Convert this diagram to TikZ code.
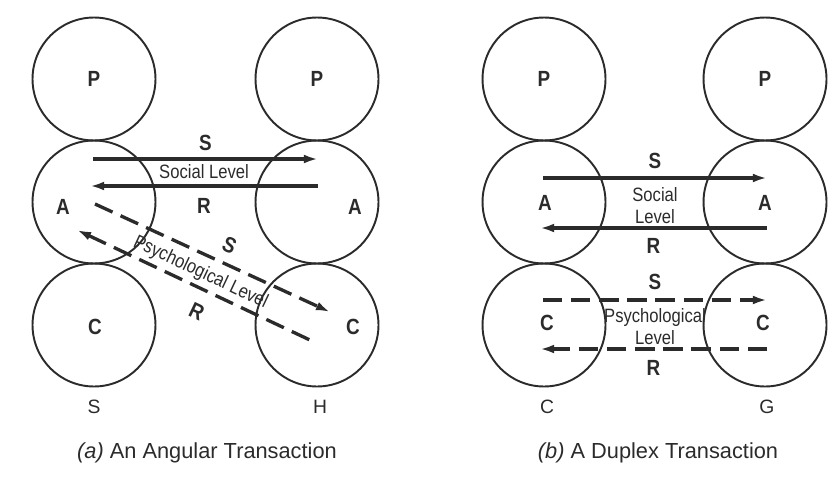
\documentclass[tikz,border=0pt]{standalone}
\usepackage{fontspec}
\setmainfont{Liberation Sans}
\newfontfamily\narrowfont{Liberation Sans}[FakeStretch=0.86]
\usepackage{tikz}
\usetikzlibrary{arrows.meta,calc}
\definecolor{ink}{HTML}{2B2B2B}
\tikzset{
	ego/.style={circle, draw=ink, line width=1.1pt, minimum size=2.46cm, inner sep=0pt},
	egoname/.style={text=ink, font=\narrowfont\bfseries\fontsize{12.5}{13}\selectfont},
	lvl/.style={text=ink, align=center, font=\narrowfont\fontsize{11}{12.5}\selectfont},
	who/.style={text=ink, font=\fontsize{11}{12}\selectfont},
	caption/.style={text=ink, font=\fontsize{12.4}{14}\selectfont},
	social/.style={draw=ink, line width=1.9pt, -{Latex[length=8pt,width=5pt]}},
	socialback/.style={draw=ink, line width=1.9pt, {Latex[length=8pt,width=5pt]}-},
	psych/.style={social, dash pattern=on 11pt off 5pt},
	psychback/.style={socialback, dash pattern=on 11pt off 5pt}
}

\begin{document}
\begin{tikzpicture}[x=0.02cm, y=-0.02cm]
	\useasboundingbox (0,0) rectangle (837,494);

	\node[ego] (aLP) at (94,79) {};
	\node[ego] (aLA) at (94,202) {};
	\node[ego] (aLC) at (94,325) {};
	\node[ego] (aRP) at (317,79) {};
	\node[ego] (aRA) at (317,202) {};
	\node[ego] (aRC) at (317,325) {};
	\node[egoname] (aLPt) at (aLP) {P};
	\node[egoname] (aRPt) at (aRP) {P};
	\node[egoname] (aLAt) at (63,207) {A};
	\node[egoname] (aRAt) at (355,207) {A};
	\node[egoname] (aLCt) at (95,327) {C};
	\node[egoname] (aRCt) at (353,327) {C};

	\draw[social] ($(aLA)+(-1,-43)$) -- ($(aRA)+(1,-43)$) node[egoname, midway, above=0.7pt] (aSs) {S};
	\draw[social] ($(aRA)+(1,-16)$) -- ($(aLA)+(-4,-16)$) node[lvl, midway, above=0pt] (aSl) {Social Level} node[egoname, midway, below=2.9pt] (aSr) {R};
	\draw[psych] ($(aLA)+(1,2)$) -- ($(aRC)+(13,-13)$) node[egoname, sloped, pos=0.54, above=1.8pt] (aPs) {S};
	\draw[psychback] ($(aLA)+(-17,28)$) -- ($(aRC)+(-5,16)$) node[lvl, sloped, midway, above, inner sep=2pt] (aPl) {Psychological Level} node[egoname, sloped, pos=0.55, below=4.2pt] (aPr) {R};

	\node[who] (aS) at (94,407) {S};
	\node[who] (aH) at (320,407) {H};
	\node[caption] (acap) at (207,453) {\textit{(a)} An Angular Transaction};

	\node[ego] (bLP) at (544,79) {};
	\node[ego] (bLA) at (544,202) {};
	\node[ego] (bLC) at (544,325) {};
	\node[ego] (bRP) at (765,79) {};
	\node[ego] (bRA) at (765,202) {};
	\node[ego] (bRC) at (765,325) {};
	\node[egoname] (bLPt) at (bLP) {P};
	\node[egoname] (bRPt) at (bRP) {P};
	\node[egoname] (bLAt) at (545,203) {A};
	\node[egoname] (bRAt) at (765,203) {A};
	\node[egoname] (bLCt) at (547,323) {C};
	\node[egoname] (bRCt) at (763,323) {C};

	\draw[social] ($(bLA)+(-1,-24)$) -- ($(bRA)+(2,-24)$) node[egoname, midway, above=1.2pt] (bSs) {S} node[lvl, midway, below=1.1pt] (bSl) {Social\\Level};
	\draw[social] ($(bRA)+(2,26)$) -- ($(bLA)+(-4,26)$) node[egoname, midway, below=1.8pt] (bSr) {R};
	\draw[psych] ($(bLC)+(-1,-25)$) -- ($(bRC)+(2,-25)$) node[egoname, midway, above=1.8pt] (bPs) {S} node[lvl, midway, below=0.3pt, font=\narrowfont\fontsize{11}{13}\selectfont] (bPl) {Psychological\\Level};
	\draw[psych] ($(bRC)+(2,24)$) -- ($(bLC)+(-4,24)$) node[egoname, midway, below=2.4pt] (bPr) {R};

	\node[who] (bC) at (547,407) {C};
	\node[who] (bG) at (767,407) {G};
	\node[caption] (bcap) at (658,453) {\textit{(b)} A Duplex Transaction};
\end{tikzpicture}
\end{document}
